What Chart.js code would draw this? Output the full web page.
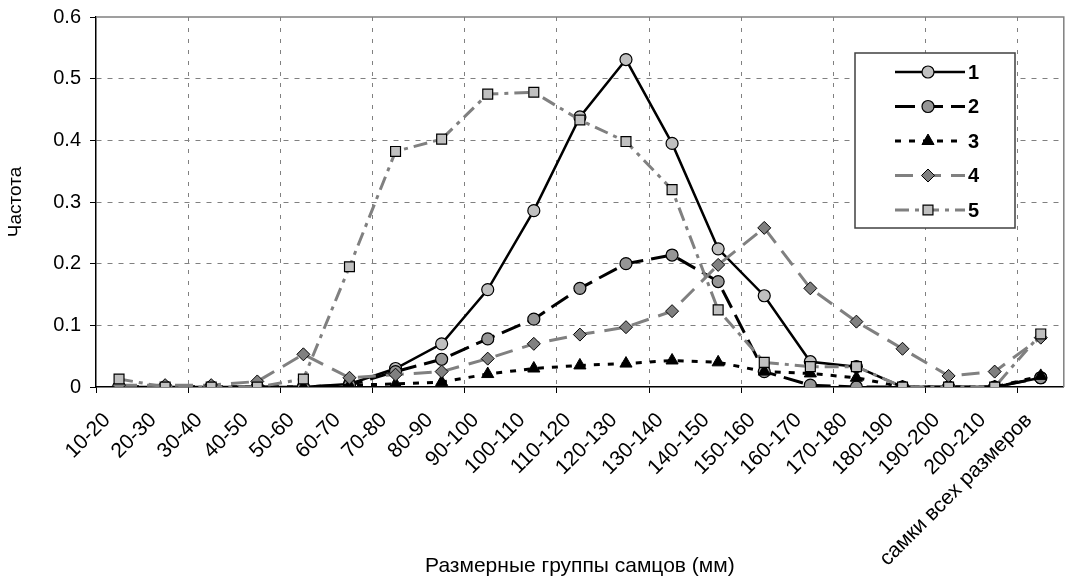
<!DOCTYPE html>
<html>
<head>
<meta charset="utf-8">
<script src="https://cdn.jsdelivr.net/npm/chart.js@4/dist/chart.umd.min.js"></script>
<style>
  html, body { margin: 0; padding: 0; background: #fff; overflow: hidden; }
  #wrap { width: 1072px; height: 583px; position: relative; }
</style>
</head>
<body>
<div id="wrap"><canvas id="chart"></canvas></div>
<script>
// Data

const categories = ["10-20", "20-30", "30-40", "40-50", "50-60", "60-70", "70-80", "80-90", "90-100",
  "100-110", "110-120", "120-130", "130-140", "140-150", "150-160", "160-170", "170-180",
  "180-190", "190-200", "200-210", "самки всех размеров"];

const seriesNames = ["1", "2", "3", "4", "5"];

const s1 = [0, 0, 0, 0, 0, 0.005, 0.03, 0.07, 0.158, 0.286, 0.438, 0.531, 0.395, 0.224, 0.148, 0.041, 0.033, 0, 0, 0, 0.015];
const s2 = [0, 0, 0, 0, 0, 0.003, 0.025, 0.045, 0.078, 0.11, 0.16, 0.2, 0.214, 0.171, 0.025, 0.003, 0, 0, 0, 0, 0.015];
const s3 = [0, 0, 0, 0, 0, 0.003, 0.005, 0.008, 0.021, 0.03, 0.035, 0.038, 0.043, 0.04, 0.025, 0.022, 0.015, 0, 0, 0, 0.018];
const s4 = [0.003, 0.003, 0.003, 0.009, 0.053, 0.015, 0.02, 0.025, 0.046, 0.07, 0.085, 0.097, 0.123, 0.198, 0.258, 0.16, 0.106, 0.062, 0.018, 0.025, 0.08];
const s5 = [0.013, 0, 0, 0, 0.013, 0.195, 0.382, 0.402, 0.475, 0.478, 0.433, 0.398, 0.32, 0.125, 0.04, 0.033, 0.033, 0, 0, 0, 0.086];

const yTicks = [0, 0.1, 0.2, 0.3, 0.4, 0.5, 0.6];

const FONT = "'Liberation Sans', Arial, sans-serif";

// Box around the plot (top and right sides) and the custom legend

const frame = {
  id: "frame",
  beforeDatasetsDraw(chart) {
    const a = chart.chartArea;
    const ctx = chart.ctx;
    ctx.save();
    ctx.strokeStyle = "#808080";
    ctx.lineWidth = 1.5;
    ctx.beginPath();
    ctx.moveTo(a.left, a.top);
    ctx.lineTo(a.right, a.top);
    ctx.lineTo(a.right, a.bottom);
    ctx.stroke();
    ctx.restore();
  }
};

const boxLegend = {
  id: "boxLegend",
  afterDraw(chart) {
    const a = chart.chartArea;
    const ctx = chart.ctx;
    const x0 = a.left + 759, y0 = a.top + 36;
    ctx.save();
    ctx.fillStyle = "#fff";
    ctx.fillRect(x0, y0, 160, 175);
    ctx.strokeStyle = "#404040";
    ctx.lineWidth = 1.5;
    ctx.strokeRect(x0, y0, 160, 175);
    chart.data.datasets.forEach((ds, i) => {
      const y = y0 + 19 + i * 34.5;
      ctx.save();
      ctx.strokeStyle = ds.borderColor;
      ctx.lineWidth = ds.borderWidth;
      ctx.setLineDash(ds.borderDash || []);
      ctx.beginPath();
      ctx.moveTo(x0 + 40, y);
      ctx.lineTo(x0 + 110, y);
      ctx.stroke();
      ctx.restore();
      ctx.save();
      ctx.fillStyle = ds.pointBackgroundColor;
      ctx.strokeStyle = ds.pointBorderColor;
      ctx.lineWidth = ds.pointBorderWidth;
      Chart.helpers.drawPoint(ctx, {pointStyle: ds.pointStyle, radius: ds.pointRadius, borderWidth: ds.pointBorderWidth, rotation: 0}, x0 + 73, y);
      ctx.restore();
      ctx.fillStyle = "#000";
      ctx.font = "bold 20px " + FONT;
      ctx.textBaseline = "middle";
      ctx.fillText(ds.label, x0 + 113, y + 1);
    });
    ctx.restore();
  }
};

new Chart("chart", {
  type: "line",
  data: {
    labels: categories,
    datasets: [{
      label: seriesNames[0],
      data: s1,
      borderColor: "#000000",
      borderWidth: 2.5,
      pointStyle: "circle",
      pointRadius: 6,
      pointBackgroundColor: "#c0c0c0",
      pointBorderColor: "#000000",
      pointBorderWidth: 1.2,
      order: 5
    },
    {
      label: seriesNames[1],
      data: s2,
      borderColor: "#000000",
      borderWidth: 3,
      borderDash: [20, 8],
      pointStyle: "circle",
      pointRadius: 6,
      pointBackgroundColor: "#969696",
      pointBorderColor: "#000000",
      pointBorderWidth: 1.2,
      order: 4
    },
    {
      label: seriesNames[2],
      data: s3,
      borderColor: "#000000",
      borderWidth: 3,
      borderDash: [6, 8],
      pointStyle: "triangle",
      pointRadius: 7,
      pointBackgroundColor: "#000000",
      pointBorderColor: "#000000",
      pointBorderWidth: 1,
      order: 3
    },
    {
      label: seriesNames[3],
      data: s4,
      borderColor: "#808080",
      borderWidth: 3,
      borderDash: [18, 10],
      pointStyle: "rectRot",
      pointRadius: 6.5,
      pointBackgroundColor: "#808080",
      pointBorderColor: "#000000",
      pointBorderWidth: 1,
      order: 2
    },
    {
      label: seriesNames[4],
      data: s5,
      borderColor: "#808080",
      borderWidth: 3,
      borderDash: [14, 6, 4, 6],
      pointStyle: "rect",
      pointRadius: 7,
      pointBackgroundColor: "#c0c0c0",
      pointBorderColor: "#000000",
      pointBorderWidth: 1.2,
      order: 1
    }]
  },
  options: {
    responsive: true,
    maintainAspectRatio: false,
    animation: false,
    layout: { padding: { top: 17, right: 3, left: 0, bottom: 4 } },
    plugins: {
      legend: { display: false },
      tooltip: { enabled: false }
    },
    scales: {
      x: {
        offset: true,
        afterFit: (scale) => {
          scale.height = 192;
          scale.paddingLeft = 0;
          scale.paddingRight = 0;
        },
        grid: {
          offset: true,
          color: (c) => (c.index > 0 && c.index % 2 === 0 ? "#808080" : "rgba(0,0,0,0)"),
          tickColor: (c) => (c.index % 2 === 0 ? "#000000" : "rgba(0,0,0,0)"),
          tickLength: 6,
          tickBorderDash: [],
          lineWidth: 1
        },
        border: { color: "#000000", width: 1.5, dash: [4, 7] },
        ticks: {
          autoSkip: false,
          maxRotation: 45,
          minRotation: 45,
          color: "#000000",
          padding: 15,
          labelOffset: -12,
          font: { family: FONT, size: 21 }
        },
        title: {
          display: true,
          text: "Размерные группы самцов (мм)",
          color: "#000000",
          font: { family: FONT, size: 21 },
          padding: { top: 0, bottom: 0 }
        }
      },
      y: {
        min: 0,
        max: 0.6,
        afterBuildTicks: (scale) => { scale.ticks = yTicks.map(v => ({ value: v })); },
        afterFit: (scale) => {
          scale.width = 96;
          scale.paddingTop = 0;
          scale.paddingBottom = 0;
        },
        grid: {
          color: (c) => (c.index > 0 && c.index < yTicks.length - 1 ? "#808080" : "rgba(0,0,0,0)"),
          tickColor: "#000000",
          tickLength: 6,
          tickBorderDash: [],
          lineWidth: 1
        },
        border: { color: "#000000", width: 1.5, dash: [5, 6] },
        ticks: {
          color: "#000000",
          padding: 9,
          font: { family: FONT, size: 20 }
        },
        title: {
          display: true,
          text: "Частота",
          color: "#000000",
          font: { family: FONT, size: 19 },
          padding: { top: 4, bottom: 0 }
        }
      }
    }
  },
  plugins: [frame, boxLegend]
});
</script>
</body>
</html>
